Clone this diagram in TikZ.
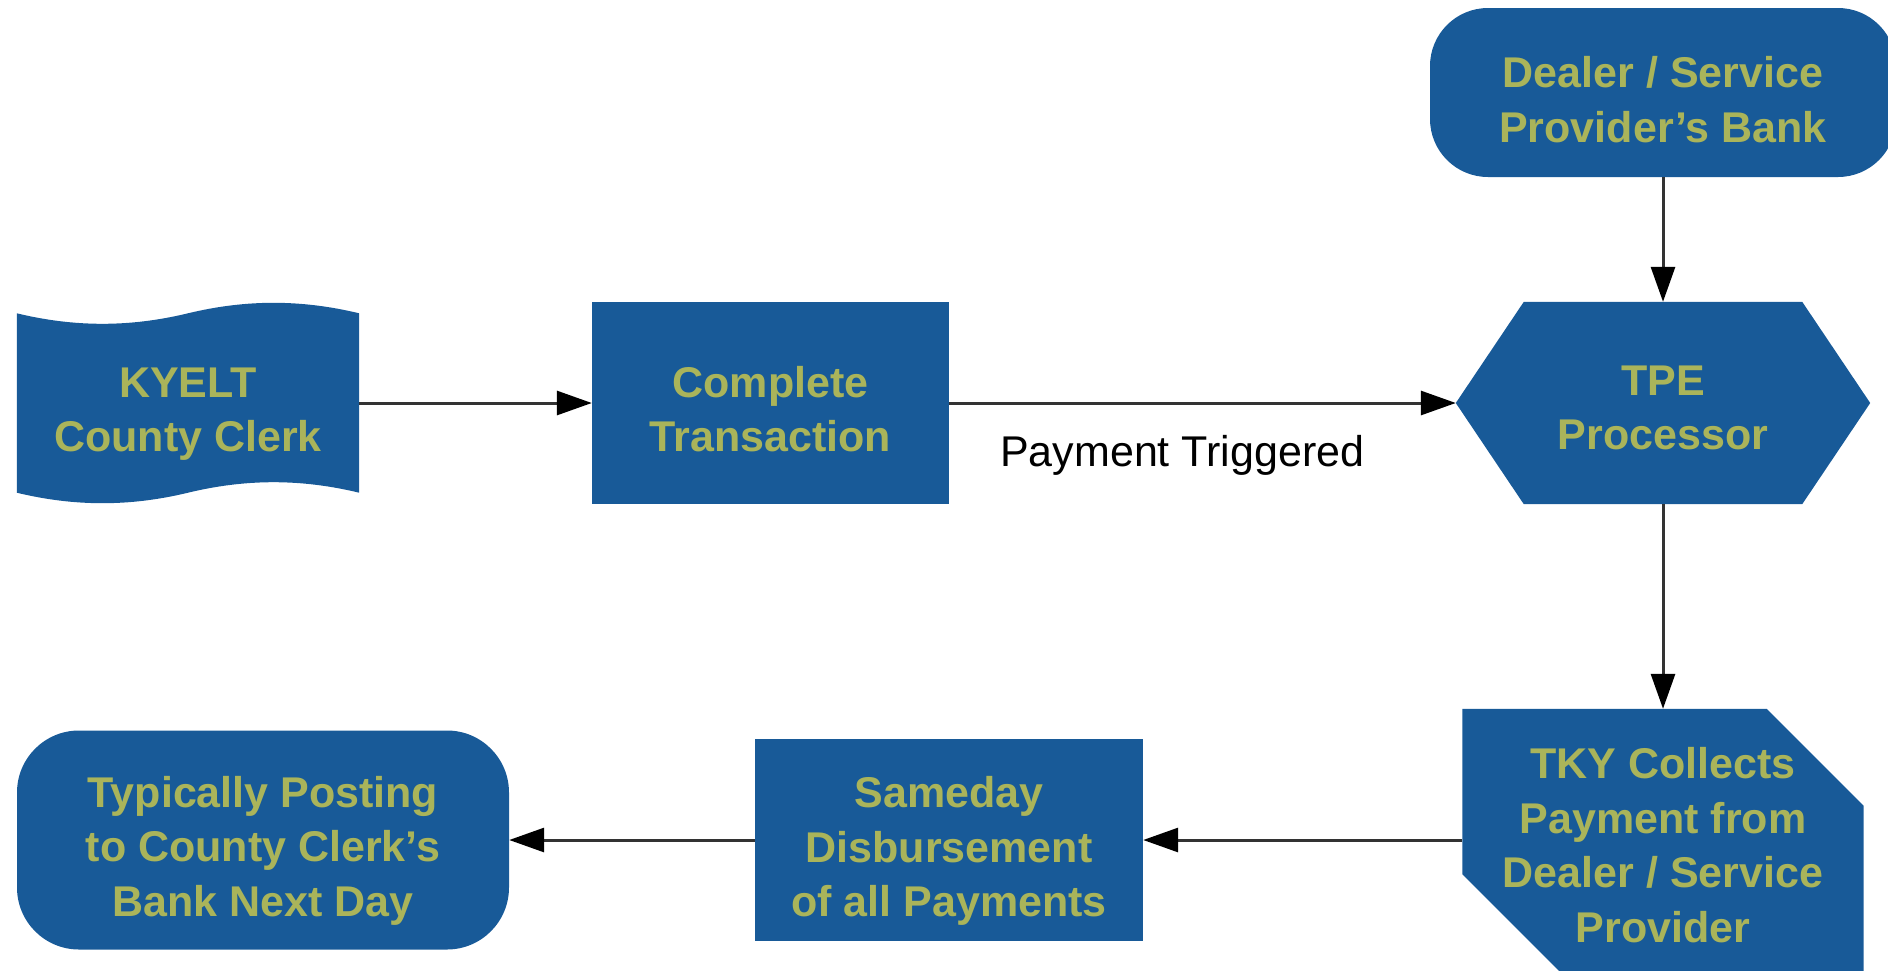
\documentclass[tikz,border=0pt]{standalone}
\usepackage{fontspec}
\setmainfont{Liberation Sans}
\usetikzlibrary{arrows.meta}
\definecolor{boxblue}{RGB}{24,90,152}
\definecolor{boxtext}{RGB}{170,180,90}
\pgfdeclarelayer{bg}
\pgfsetlayers{bg,main}
\begin{document}
\begin{tikzpicture}[x=1pt,y=-1pt,
  txt/.style={text=boxtext, font=\fontsize{43}{54.5}\selectfont\bfseries, align=center, inner sep=0pt},
  shp/.style={inner sep=0pt},
  blk/.style={shp, fill=boxblue},
  arr/.style={draw=black!80, line width=3pt, -{Triangle[length=35pt,width=24pt,color=black]}},
  edgelbl/.style={font=\fontsize{43}{53}\selectfont, text=black, inner sep=0pt}]
\useasboundingbox (0,0) rectangle (1888,970);

\node[shp, minimum width=342pt, minimum height=179pt,
  label={[txt, name=kyelt-t, yshift=-11pt]center:{KYELT\\County Clerk}}] (kyelt) at (188,403) {};
\node[blk, minimum width=357pt, minimum height=202pt,
  label={[txt, name=complete-t, yshift=-6pt]center:{Complete\\Transaction}}] (complete) at (770.5,403) {};
\node[shp, minimum width=414pt, minimum height=202pt,
  label={[txt, name=tpe-t, yshift=-5pt]center:{TPE\\Processor}}] (tpe) at (1663,403) {};
\node[blk, rounded corners=58pt, minimum width=466pt, minimum height=169pt,
  label={[txt, name=bank-t, yshift=-7pt]center:{Dealer / Service\\Provider’s Bank}}] (bank) at (1663,92.5) {};
\node[shp, minimum width=401pt, minimum height=262pt,
  label={[txt, name=tky-t, yshift=-5pt]center:{TKY Collects\\Payment from\\Dealer / Service\\Provider}}] (tky) at (1663,840) {};
\node[blk, minimum width=388pt, minimum height=202pt,
  label={[txt, name=sameday-t, yshift=-11pt]center:{Sameday\\Disbursement\\of all Payments}}] (sameday) at (949,840) {};
\node[blk, rounded corners=62pt, minimum width=492pt, minimum height=219pt,
  label={[txt, name=typ-t, yshift=-10.5pt]center:{Typically Posting\\to County Clerk’s\\Bank Next Day}}] (typ) at (263,840) {};

\begin{pgfonlayer}{bg}
\fill[boxblue] (kyelt.north west)
  .. controls +(58,14) and +(-58,14) .. (kyelt.north)
  .. controls +(58,-14) and +(-58,-14) .. (kyelt.north east)
  -- (kyelt.south east)
  .. controls +(-58,-14) and +(58,-14) .. (kyelt.south)
  .. controls +(-58,14) and +(58,14) .. (kyelt.south west) -- cycle;
\fill[boxblue] (tpe.west) -- ([xshift=68pt]tpe.north west) -- ([xshift=-68pt]tpe.north east)
  -- (tpe.east) -- ([xshift=-68pt]tpe.south east) -- ([xshift=68pt]tpe.south west) -- cycle;
\fill[boxblue] (tky.north west) -- ([xshift=-97pt]tky.north east) -- ([yshift=-97pt]tky.north east)
  -- (tky.south east) -- ([xshift=97pt]tky.south west) -- ([yshift=97pt]tky.south west) -- cycle;
\end{pgfonlayer}

\draw[arr] (kyelt) -- (complete);
\draw[arr] (complete) -- node[edgelbl, pos=0.46, yshift=-52pt] {Payment Triggered} (tpe);
\draw[arr] (bank) -- (tpe);
\draw[arr] (tpe) -- (tky);
\draw[arr] (tky) -- (sameday);
\draw[arr] (sameday) -- (typ);
\end{tikzpicture}
\end{document}
